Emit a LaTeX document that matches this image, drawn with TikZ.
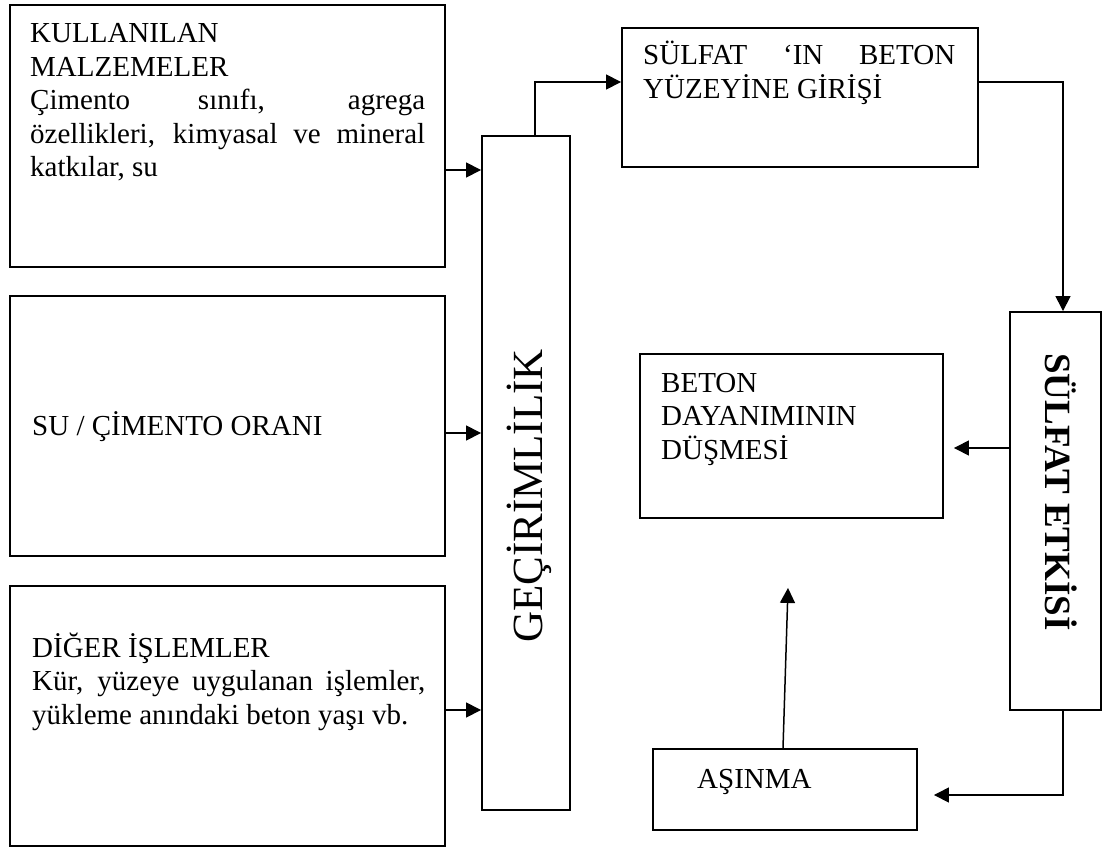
\documentclass[tikz,border=0pt]{standalone}
\usepackage{fontspec}
\setmainfont{Liberation Serif}
\usetikzlibrary{arrows.meta}
\begin{document}
\begin{tikzpicture}[x=1pt,y=-1pt,
  box/.style={draw,line width=1.9pt,inner sep=0pt},
  txt/.style={anchor=base west,inner sep=0pt,font=\fontsize{29}{33.5}\selectfont,align=justify},
  vtxt/.style={anchor=base,inner sep=0pt},
  arr/.style={line width=1.5pt,-{Triangle[length=15pt,width=15pt]}},
  ln/.style={line width=1.5pt}]
\useasboundingbox (0,0) rectangle (1105,848);
\fill[white] (0,0) rectangle (1105,848);
% boxes
\node[box,minimum width=435pt,minimum height=262pt] (b1) at (227.5,136) {};
\node[box,minimum width=435pt,minimum height=260pt] (b2) at (227.5,426) {};
\node[box,minimum width=435pt,minimum height=260pt] (b3) at (227.5,716) {};
\node[box,minimum width=88pt,minimum height=674pt] (gec) at (526,473) {};
\node[box,minimum width=356pt,minimum height=139pt] (sg) at (800,97.5) {};
\node[box,minimum width=91pt,minimum height=398pt] (se) at (1055.5,511) {};
\node[box,minimum width=303pt,minimum height=164pt] (bd) at (791.5,436) {};
\node[box,minimum width=264pt,minimum height=81pt] (as) at (785,789.5) {};
% texts
\node[txt,text width=395pt] (t1) at (30,43) {KULLANILAN\par MALZEMELER\par \hyphenpenalty=10000 Çimento sınıfı, agrega\linebreak özellikleri, kimyasal ve mineral\linebreak katkılar, su};
\node[txt] (t2) at (32,435) {SU / ÇİMENTO ORANI};
\node[txt,text width=393pt] (t3) at (32,657) {DİĞER İŞLEMLER\par \hyphenpenalty=10000 Kür, yüzeye uygulanan işlemler,\linebreak yükleme anındaki beton yaşı vb.};
\node[txt,text width=312pt] (t4) at (643,65) {\hyphenpenalty=10000 SÜLFAT ‘IN BETON\linebreak YÜZEYİNE GİRİŞİ};
\node[txt,text width=290pt,align=left] (t5) at (661,392) {BETON\par DAYANIMININ\par DÜŞMESİ};
\node[txt] (t6) at (697,788) {AŞINMA};
\node[vtxt,rotate=90,font=\fontsize{43}{50}\selectfont] (t7) at (542,496) {GEÇİRİMLİLİK};
\node[vtxt,rotate=-90,font=\fontsize{37}{44}\selectfont\bfseries] (t8) at (1045,492) {SÜLFAT ETKİSİ};
% connectors
\draw[arr] ([yshift=-34pt]b1.east) -- ([yshift=-34pt]b1.east -| gec.west);
\draw[arr] ([yshift=-7pt]b2.east) -- ([yshift=-7pt]b2.east -| gec.west);
\draw[arr] ([yshift=6pt]b3.east) -- ([yshift=6pt]b3.east -| gec.west);
\coordinate (gt) at ([xshift=9pt]gec.north);
\coordinate (sgw) at ([yshift=15.5pt]sg.west);
\coordinate (sge) at ([yshift=15.5pt]sg.east);
\coordinate (sen) at ([xshift=7.5pt]se.north);
\draw[arr] (gt) |- (sgw);
\draw[arr] (sge) -| (sen);
\coordinate (p1) at ([yshift=63pt]se.west);
\coordinate (p2) at ([xshift=10pt]bd.east);
\draw[arr] (p1) -- (p1 -| p2);
\coordinate (p3) at ([xshift=16pt,yshift=-5.5pt]as.east);
\draw[arr] ([xshift=7.5pt]se.south) |- (p3);
\coordinate (p4) at ([xshift=-3.5pt,yshift=-69pt]bd.south);
\draw[arr] ([xshift=-2pt]as.north) -- (p4);
\end{tikzpicture}
\end{document}
